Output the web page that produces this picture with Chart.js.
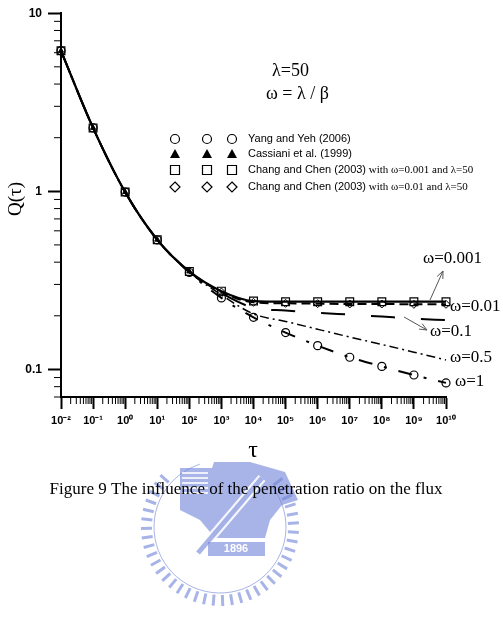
<!DOCTYPE html>
<html>
<head>
<meta charset="utf-8">
<script src="https://cdn.jsdelivr.net/npm/chart.js@4"></script>
<style>
  body { margin: 0; background: #fff; }
  canvas { display: block; }
</style>
</head>
<body>
<canvas id="fluxChart" width="503" height="619"></canvas>
<script>
// tau values (decades) and Q(tau)
const tau = [1e-2, 1e-1, 1, 1e1, 1e2, 1e3, 1e4, 1e5, 1e6, 1e7, 1e8, 1e9, 1e10];
const qW0001 = [6.15, 2.27, 0.99, 0.535, 0.355, 0.275, 0.242, 0.240, 0.240, 0.240, 0.240, 0.240, 0.240];
const qW001 = [6.15, 2.27, 0.99, 0.535, 0.355, 0.272, 0.238, 0.235, 0.234, 0.233, 0.233, 0.232, 0.232];
const qW01 = [6.15, 2.27, 0.99, 0.535, 0.353, 0.268, 0.222, 0.214, 0.208, 0.203, 0.198, 0.193, 0.189];
const qW05 = [6.15, 2.27, 0.99, 0.535, 0.352, 0.262, 0.205, 0.186, 0.168, 0.152, 0.138, 0.125, 0.113];
const qW1 = [6.15, 2.27, 0.99, 0.533, 0.350, 0.252, 0.196, 0.161, 0.136, 0.117, 0.104, 0.093, 0.084];

const xMajor = [1e-2, 1e-1, 1, 1e1, 1e2, 1e3, 1e4, 1e5, 1e6, 1e7, 1e8, 1e9, 1e10];
const xLabels = ['10⁻²', '10⁻¹', '10⁰', '10¹', '10²', '10³', '10⁴', '10⁵', '10⁶', '10⁷', '10⁸', '10⁹', '10¹⁰'];
const yMajor = [0.1, 1, 10];
const yLabels = ['0.1', '1', '10'];

const legendItems = [
  { style: 'circle', text: 'Yang and Yeh (2006)', extra: '' },
  { style: 'triangle', text: 'Cassiani et al. (1999)', extra: '' },
  { style: 'rect', text: 'Chang and Chen (2003)', extra: ' with ω=0.001 and λ=50' },
  { style: 'diamond', text: 'Chang and Chen (2003)', extra: ' with ω=0.01 and λ=50' }
];

const pts = (ys, from, to) => tau.slice(from, to).map((t, i) => ({ x: t, y: ys[from + i] }));

function lineSet(ys, dash, width) {
  return {
    data: pts(ys, 0, tau.length),
    showLine: true,
    borderColor: '#000',
    borderWidth: width,
    borderDash: dash,
    pointRadius: 0,
    cubicInterpolationMode: 'monotone',
    fill: false,
    clip: false
  };
}

const serif = '"Liberation Serif", "Times New Roman", serif';
const sans = '"Liberation Sans", Arial, sans-serif';

// faint university seal behind the caption
function watermark(c) {
  const cx = 220, cy = 527;
  c.save();
  c.strokeStyle = 'rgba(110,130,215,0.6)';
  c.fillStyle = 'rgba(110,130,215,0.6)';
  c.lineWidth = 3;
  c.beginPath();
  for (let deg = -38; deg <= 226; deg += 7) {
    const r = deg * Math.PI / 180;
    c.moveTo(cx + 68 * Math.cos(r), cy + 68 * Math.sin(r));
    c.lineTo(cx + 79 * Math.cos(r), cy + 79 * Math.sin(r));
  }
  c.stroke();
  c.lineWidth = 1;
  c.beginPath();
  c.arc(cx, cy, 66, -0.66, Math.PI + 0.66 + 0.6, false);
  c.stroke();
  // anvil body
  c.beginPath();
  c.moveTo(180, 468); c.lineTo(212, 468); c.lineTo(214, 462);
  c.lineTo(250, 462); c.lineTo(285, 472); c.lineTo(298, 500);
  c.lineTo(282, 505); c.lineTo(270, 520); c.lineTo(265, 538);
  c.lineTo(215, 538); c.lineTo(200, 520); c.lineTo(180, 510);
  c.closePath();
  c.fill();
  c.fillStyle = 'rgba(255,255,255,0.8)';
  for (let i = 0; i < 5; i++) c.fillRect(182, 472 + i * 5, 26, 2);
  // diagonal bar
  c.strokeStyle = 'rgba(255,255,255,0.9)';
  c.lineWidth = 9;
  c.beginPath(); c.moveTo(198, 553); c.lineTo(262, 478); c.stroke();
  c.strokeStyle = 'rgba(110,130,215,0.6)';
  c.lineWidth = 5;
  c.beginPath(); c.moveTo(198, 553); c.lineTo(262, 478); c.stroke();
  // 1896 plate
  c.fillStyle = 'rgba(110,130,215,0.6)';
  c.fillRect(208, 542, 57, 14);
  c.fillStyle = '#fff';
  c.font = 'bold 11px ' + sans;
  c.textAlign = 'center';
  c.textBaseline = 'middle';
  c.fillText('1896', 236, 549);
  c.restore();
}

const extras = {
  id: 'extras',
  afterDraw(chart) {
    const c = chart.ctx;
    const xs = chart.scales.x, ys = chart.scales.y;
    const a = chart.chartArea;
    c.save();
    c.strokeStyle = '#000';
    c.fillStyle = '#000';
    // minor ticks
    c.lineWidth = 1;
    c.beginPath();
    for (let d = -2; d < 10; d++) {
      for (let m = 2; m <= 9; m++) {
        const px = xs.getPixelForValue(m * Math.pow(10, d));
        c.moveTo(px, a.bottom);
        c.lineTo(px, a.bottom + 7);
      }
    }
    for (let d = -2; d < 1; d++) {
      for (let m = 2; m <= 9; m++) {
        const v = m * Math.pow(10, d);
        if (v < ys.min || v > ys.max) continue;
        const py = ys.getPixelForValue(v);
        c.moveTo(a.left - 7, py);
        c.lineTo(a.left, py);
      }
    }
    c.stroke();

    // parameter text
    c.font = '18px ' + serif;
    c.textBaseline = 'middle';
    c.textAlign = 'left';
    c.fillText('λ=50', 272, 71);
    c.fillText('ω = λ / β', 266, 94);

    // legend
    const cols = [175, 207, 232];
    const rows = [139, 154, 170, 187];
    legendItems.forEach((it, i) => {
      cols.forEach(cx => drawSym(c, it.style, cx, rows[i]));
      c.font = '11px ' + sans;
      c.fillStyle = '#000';
      c.fillText(it.text, 248, rows[i]);
      if (it.extra) {
        const w = c.measureText(it.text).width;
        c.font = '11px ' + serif;
        c.fillText(it.extra, 248 + w, rows[i]);
      }
    });

    // curve labels
    c.font = '17px ' + serif;
    c.fillText('ω=0.001', 423, 259);
    c.fillText('ω=0.01', 450, 307);
    c.fillText('ω=0.1', 430, 332);
    c.fillText('ω=0.5', 450, 358);
    c.fillText('ω=1', 455, 382);

    // arrows
    c.strokeStyle = '#555';
    c.lineWidth = 1;
    arrow(c, 430, 300, 443, 271);
    arrow(c, 404, 317, 427, 330);

    watermark(c);

    // axis titles
    c.fillStyle = '#000';
    c.font = '24px ' + serif;
    c.textAlign = 'center';
    c.textBaseline = 'middle';
    c.fillText('τ', 253, 451);
    c.save();
    c.translate(16, 199);
    c.rotate(-Math.PI / 2);
    c.font = '19px ' + serif;
    c.fillText('Q(τ)', 0, 0);
    c.restore();

    // caption
    c.font = '17px ' + serif;
    c.fillText('Figure 9 The influence of the penetration ratio on the flux', 246, 490);
    c.restore();
  }
};

function arrow(c, x1, y1, x2, y2) {
  const ang = Math.atan2(y2 - y1, x2 - x1);
  c.beginPath();
  c.moveTo(x1, y1);
  c.lineTo(x2, y2);
  c.moveTo(x2 - 8 * Math.cos(ang - 0.4), y2 - 8 * Math.sin(ang - 0.4));
  c.lineTo(x2, y2);
  c.lineTo(x2 - 8 * Math.cos(ang + 0.4), y2 - 8 * Math.sin(ang + 0.4));
  c.stroke();
}

function drawSym(c, style, x, y) {
  c.save();
  c.strokeStyle = '#000';
  c.fillStyle = '#000';
  c.lineWidth = 1.2;
  c.beginPath();
  if (style === 'circle') {
    c.arc(x, y, 4.5, 0, Math.PI * 2);
    c.stroke();
  } else if (style === 'triangle') {
    c.moveTo(x, y - 5);
    c.lineTo(x + 5, y + 4);
    c.lineTo(x - 5, y + 4);
    c.closePath();
    c.fill();
  } else if (style === 'rect') {
    c.rect(x - 4.5, y - 4.5, 9, 9);
    c.stroke();
  } else {
    c.moveTo(x, y - 5);
    c.lineTo(x + 5, y);
    c.lineTo(x, y + 5);
    c.lineTo(x - 5, y);
    c.closePath();
    c.stroke();
  }
  c.restore();
}

new Chart(document.getElementById('fluxChart'), {
  type: 'scatter',
  data: {
    datasets: [
      {
        label: 'Chang and Chen (2003) ω=0.001',
        data: pts(qW0001, 0, tau.length),
        pointStyle: 'rect', pointRadius: 5.5, clip: false,
        pointBackgroundColor: 'rgba(0,0,0,0)', pointBorderColor: '#000', pointBorderWidth: 1.2
      },
      {
        label: 'Chang and Chen (2003) ω=0.01',
        data: pts(qW001, 5, tau.length),
        pointStyle: 'rectRot', pointRadius: 4, clip: false,
        pointBackgroundColor: 'rgba(0,0,0,0)', pointBorderColor: '#000', pointBorderWidth: 1
      },
      {
        label: 'Cassiani et al. (1999)',
        data: pts(qW0001, 0, 5),
        pointStyle: 'triangle', pointRadius: 3, clip: false,
        pointBackgroundColor: '#000', pointBorderColor: '#000', pointBorderWidth: 1
      },
      {
        label: 'Yang and Yeh (2006)',
        data: pts(qW1, 0, tau.length),
        pointStyle: 'circle', pointRadius: 4, clip: false,
        pointBackgroundColor: 'rgba(255,255,255,0)', pointBorderColor: '#000', pointBorderWidth: 1.2
      },
      lineSet(qW0001, [], 2.2),
      lineSet(qW001, [9, 5], 2),
      lineSet(qW01, [24, 26], 2),
      lineSet(qW05, [9, 4, 2, 4], 1.5),
      lineSet(qW1, [14, 12, 3, 12], 2)
    ]
  },
  options: {
    responsive: false,
    animation: false,
    layout: { padding: { left: 0, right: 57, top: 11, bottom: 182 } },
    plugins: { legend: { display: false }, tooltip: { enabled: false } },
    scales: {
      x: {
        type: 'logarithmic',
        min: 1e-2,
        max: 1e10,
        afterBuildTicks: s => { s.ticks = xMajor.map(v => ({ value: v })); },
        afterFit: s => { s.height = 40; },
        border: { display: true, color: '#000', width: 2 },
        grid: { drawOnChartArea: false, drawTicks: true, tickLength: 12, tickWidth: 2, tickColor: '#000' },
        ticks: {
          autoSkip: false, maxRotation: 0, padding: 5, color: '#000',
          font: { family: sans, size: 11, weight: 'bold' },
          callback: (v) => xLabels[xMajor.findIndex(m => Math.abs(Math.log10(m) - Math.log10(v)) < 1e-6)]
        }
      },
      y: {
        type: 'logarithmic',
        min: 0.07,
        max: 10,
        afterBuildTicks: s => { s.ticks = yMajor.map(v => ({ value: v })); },
        afterFit: s => { s.width = 61; },
        border: { display: true, color: '#000', width: 2 },
        grid: { drawOnChartArea: false, drawTicks: true, tickLength: 13, tickWidth: 2, tickColor: '#000' },
        ticks: {
          autoSkip: false, padding: 6, color: '#000',
          font: { family: sans, size: 12, weight: 'bold' },
          callback: (v) => yLabels[yMajor.findIndex(m => Math.abs(Math.log10(m) - Math.log10(v)) < 1e-6)]
        }
      }
    }
  },
  plugins: [extras]
});
</script>
</body>
</html>
